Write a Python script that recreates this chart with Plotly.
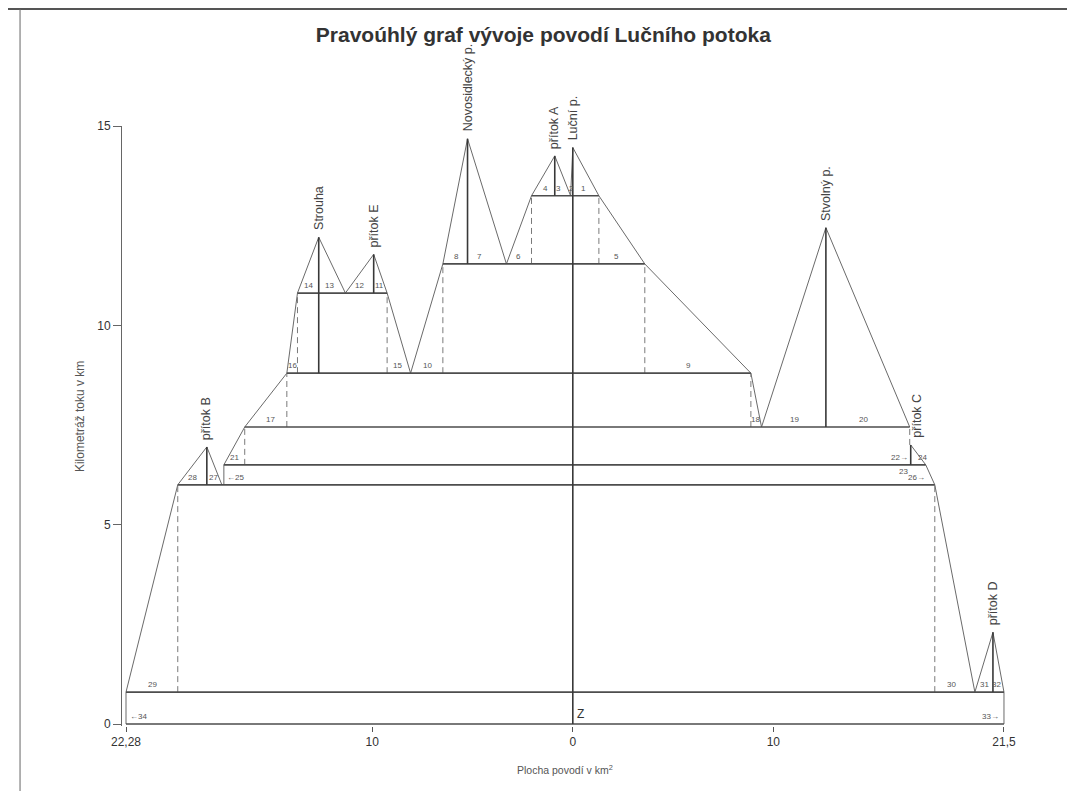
import plotly.graph_objects as go

# ---------------- texts ----------------
title_text = "Pravoúhlý graf vývoje povodí Lučního potoka"
x_title = "Plocha povodí v km<sup>2</sup>"
y_title = "Kilometráž toku v km"
x_tick_vals = [-22.28, -10, 0, 10, 21.5]
x_tick_text = ["22,28", "10", "0", "10", "21,5"]
y_tick_vals = [0, 5, 10, 15]

# ---------------- data ----------------
# horizontal levels: river km (y) and their extent in km² (left side negative, right side positive)
level_km = [0.0, 0.8, 6.0, 6.5, 7.45, 8.8, 10.81, 11.54, 13.25]
level_left = [-22.28, -22.28, -19.7, -17.4, -16.36, -14.26, -13.73, -6.48, -2.06]
level_right = [21.5, 21.5, 18.05, 17.6, 16.8, 8.88, -9.26, 3.59, 1.30]

# rivers (stems): position, spring km, km of mouth
river_names = ["Novosidlecký p.", "přítok A", "Luční p.", "Strouha", "přítok E",
               "Stvolný p.", "přítok B", "přítok C", "přítok D"]
river_x = [-5.25, -0.9, 0.0, -12.67, -9.93, 12.62, -18.25, 16.85, 20.95]
river_top = [14.68, 14.25, 14.46, 12.21, 11.78, 12.45, 6.95, 7.0, 2.3]
river_base = [11.54, 13.25, 0.0, 8.8, 10.81, 7.45, 6.0, 6.5, 0.8]

# outline of the basin development (sloped connecting lines)
profile_x = [
    [-22.28, -22.28, -19.7, -18.25, -17.5],
    [-17.4, -17.4, -16.36, -14.26, -13.73, -12.67, -11.34, -9.93, -9.26, -8.09,
     -6.48, -5.25, -3.31, -2.06, -0.9, -0.11, 0.0, 1.30, 3.59, 8.88, 9.41, 12.62, 16.8],
    [16.85, 17.6, 18.05, 20.05, 20.95, 21.5, 21.5],
]
profile_y = [
    [0.0, 0.8, 6.0, 6.95, 6.0],
    [6.0, 6.5, 7.45, 8.8, 10.81, 12.21, 10.81, 11.78, 10.81, 8.8,
     11.54, 14.68, 11.54, 13.25, 14.25, 13.25, 14.46, 13.25, 11.54, 8.8, 7.45, 12.45, 7.45],
    [7.0, 6.5, 6.0, 0.8, 2.3, 0.8, 0.0],
]

# dashed vertical connectors
dash_x = [-19.7, 18.05, -16.36, -14.26, 8.88, -13.73, -9.26, -6.48, 3.59, -2.06, 1.30, 16.8]
dash_y0 = [0.8, 0.8, 6.5, 7.45, 7.45, 8.8, 8.8, 8.8, 8.8, 11.54, 11.54, 7.0]
dash_y1 = [6.0, 6.0, 7.45, 8.8, 8.8, 10.81, 10.81, 11.54, 11.54, 13.25, 13.25, 7.45]

# segment numbers
seg_text = ["1", "2", "3", "4", "5", "6", "7", "8", "9", "10", "11", "12", "13", "14",
            "15", "16", "17", "18", "19", "20", "21", "22\u2192", "23", "24", "\u219025",
            "26\u2192", "27", "28", "29", "30", "31", "32", "33\u2192", "\u219034"]
seg_x = [0.55, -0.05, -0.7, -1.36, 2.19, -2.69, -4.64, -5.8, 5.79, -7.23, -9.63, -10.62,
         -12.12, -13.17, -8.74, -13.97, -15.06, 9.13, 11.07, 14.51, -16.86, 16.8, 16.5,
         17.1, -17.35, 17.65, -17.9, -18.95, -20.95, 18.9, 20.55, 21.15, 21.35, -22.2]
seg_level = [13.25, 13.25, 13.25, 13.25, 11.54, 11.54, 11.54, 11.54, 8.8, 8.8, 10.81,
             10.81, 10.81, 10.81, 8.8, 8.8, 7.45, 7.45, 7.45, 7.45, 6.5, 6.5, 6.5, 6.5,
             6.0, 6.0, 6.0, 6.0, 0.8, 0.8, 0.8, 0.8, 0.0, 0.0]
seg_below = [False] * 22 + [True] + [False] * 11
seg_anchor = ["center"] * 21 + ["right", "center", "left", "left", "right"] + ["center"] * 6 + ["right", "left"]

# ---------------- figure ----------------
fig = go.Figure()


def add_lines(xs, ys, color, width, dash="solid"):
    fig.add_trace(go.Scatter(x=xs, y=ys, mode="lines", hoverinfo="skip", showlegend=False,
                             line=dict(color=color, width=width, dash=dash)))


# sloped outline
px, py = [], []
for xs, ys in zip(profile_x, profile_y):
    px += xs + [None]
    py += ys + [None]
add_lines(px, py, "#6a6a6a", 1.0)

# dashed connectors
dx, dy = [], []
for x, a, b in zip(dash_x, dash_y0, dash_y1):
    dx += [x, x, None]
    dy += [a, b, None]
add_lines(dx, dy, "#7a7a7a", 1.0, dash="6px,4px")

# horizontal levels
lx, ly = [], []
for y, a, b in zip(level_km, level_left, level_right):
    lx += [a, b, None]
    ly += [y, y, None]
add_lines(lx, ly, "#4d4d4d", 1.7)

# river stems
sx, sy = [], []
for x, t, b in zip(river_x, river_top, river_base):
    sx += [x, x, None]
    sy += [b, t, None]
add_lines(sx, sy, "#383838", 1.6)

annotations = []
# river names (rotated)
for name, x, t in zip(river_names, river_x, river_top):
    shift = 6 if name == "přítok C" else 0
    annotations.append(dict(x=x, y=t, xref="x", yref="y", text=name, showarrow=False,
                            textangle=-90, xanchor="center", yanchor="bottom", yshift=5,
                            xshift=shift,
                            font=dict(size=12.5, color="#444")))
# segment numbers
for t, x, lv, below, anc in zip(seg_text, seg_x, seg_level, seg_below, seg_anchor):
    annotations.append(dict(x=x, y=lv, xref="x", yref="y", text=t, showarrow=False,
                            xanchor=anc, yanchor="top" if below else "bottom",
                            yshift=0 if below else 1,
                            font=dict(size=8, color="#555")))
# Z mark
annotations.append(dict(x=0.1, y=0.0, xref="x", yref="y", text="Z", showarrow=False,
                        xanchor="left", yanchor="bottom", yshift=1,
                        font=dict(size=12, color="#333")))
# axis titles
annotations.append(dict(x=-0.047, y=0.515, xref="paper", yref="paper", text=y_title,
                        showarrow=False, textangle=-90, xanchor="center", yanchor="middle",
                        font=dict(size=12, color="#555")))
annotations.append(dict(x=0.497, y=-0.073, xref="paper", yref="paper", text=x_title,
                        showarrow=False, xanchor="center", yanchor="middle",
                        font=dict(size=10.5, color="#555")))

# page frame (decoration)
shapes = [
    dict(type="line", xref="paper", yref="paper", x0=-0.137, x1=1.068, y0=1.195, y1=1.195,
         line=dict(color="#555", width=2)),
    dict(type="line", xref="paper", yref="paper", x0=-0.1143, x1=-0.1143, y0=1.195, y1=-0.13,
         line=dict(color="#666", width=1)),
]

fig.update_layout(
    width=1075, height=791,
    margin=dict(l=114, r=69, t=118, b=73),
    paper_bgcolor="white", plot_bgcolor="white",
    font=dict(family="Liberation Sans, Arial, sans-serif", color="#333"),
    title=dict(text="<b>" + title_text + "</b>", x=0.498, xanchor="center",
               y=0.966, yanchor="middle",
               font=dict(size=21, color="#333", family="Liberation Sans, Arial, sans-serif")),
    xaxis=dict(range=[-22.48, 22.0], tickvals=x_tick_vals, ticktext=x_tick_text,
               ticks="outside", ticklen=5, tickcolor="#555", showgrid=False,
               zeroline=False, showline=False, tickfont=dict(size=12, color="#333")),
    yaxis=dict(range=[-0.05, 15.0], tickvals=y_tick_vals, ticks="outside", ticklen=8,
               tickcolor="#666", showline=True, linecolor="#666", linewidth=1,
               showgrid=False, zeroline=False, tickfont=dict(size=12, color="#333")),
    showlegend=False,
    annotations=annotations,
    shapes=shapes,
)

fig.write_html("out.html")
